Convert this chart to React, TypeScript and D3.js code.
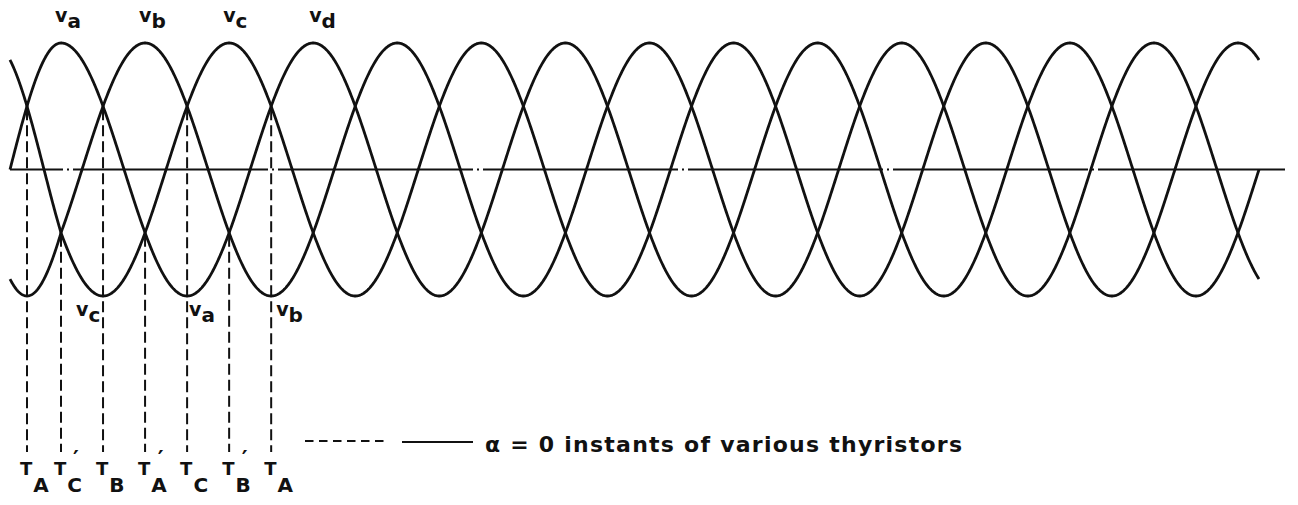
import React from 'react';
import * as d3 from 'd3';

const W = 1298;
const H = 505;

// Three-phase supply: phase names and their lag in electrical degrees
const PHASE_NAMES = ['a', 'b', 'c'];
const PHASE_LAG_DEG = [0, 120, 240];
const PEAK_VALUE = 1;

// Electrical angle span drawn (degrees) and sampling step
const ANGLE_START = 0;
const ANGLE_END = 1800;
const SAMPLE_STEP_DEG = 1;

// Phase labels at positive peaks and at negative troughs
const TOP_LABEL_SUBS = ['a', 'b', 'c', 'd'];
const TOP_LABEL_ANGLES = [90, 210, 330, 450];
const BOTTOM_LABEL_SUBS = ['c', 'a', 'b'];
const BOTTOM_LABEL_ANGLES = [150, 270, 390];

// alpha = 0 instants (natural commutation points) of the thyristors
const FIRING_ANGLES = [30, 90, 150, 210, 270, 330, 390];
const FIRING_SUBS = ['A', 'C', 'B', 'A', 'C', 'B', 'A'];
const FIRING_PRIMED = [false, true, false, true, false, true, false];

const LEGEND_TEXT = 'α = 0 instants of various thyristors';

const FONT = '"DejaVu Sans", sans-serif';
const INK = '#111';

const rad = (deg: number) => (deg * Math.PI) / 180;
const phaseValue = (angle: number, lag: number) => PEAK_VALUE * Math.sin(rad(angle - lag));

export default function App() {
  const x = d3.scaleLinear().domain([ANGLE_START, 90, ANGLE_END]).range([10, 61, 1259]);
  const y = d3.scaleLinear().domain([-PEAK_VALUE, PEAK_VALUE]).range([296, 43]);

  const angles = d3.range(ANGLE_START, ANGLE_END + SAMPLE_STEP_DEG / 2, SAMPLE_STEP_DEG);

  const waves = PHASE_NAMES.map((name, i) => ({
    name,
    d:
      d3
        .line<number>()
        .x((a) => x(a))
        .y((a) => y(phaseValue(a, PHASE_LAG_DEG[i])))
        .curve(d3.curveLinear)(angles) || '',
  }));

  // level of a commutation point: two phases are equal there (the median of the three)
  const crossing = (angle: number) =>
    d3.median(PHASE_LAG_DEG.map((lag) => phaseValue(angle, lag))) as number;

  const dropEnd = 452;
  const topDx = [-6, -6, -6, -4];
  const bottomDx = [-27, 2, 5];

  return (
    <svg
      width={W}
      height={H}
      style={{ position: 'fixed', left: 0, top: 0, background: '#fff' }}
      fontFamily={FONT}
      fontWeight="bold"
      fill={INK}
    >
      <rect x={0} y={0} width={W} height={H} fill="#fff" />

      {/* zero axis, dash-dot */}
      <line
        x1={10}
        x2={1285}
        y1={y(0)}
        y2={y(0)}
        stroke={INK}
        strokeWidth={2}
        strokeDasharray="195 4 2 4"
        strokeDashoffset={142}
      />

      {/* phase voltages */}
      {waves.map((w) => (
        <path key={w.name} d={w.d} fill="none" stroke={INK} strokeWidth={2.8} strokeLinejoin="round" />
      ))}

      {/* alpha = 0 drop lines */}
      {FIRING_ANGLES.map((a, i) => (
        <line
          key={'drop' + i}
          x1={x(a)}
          x2={x(a)}
          y1={y(crossing(a)) + 3}
          y2={dropEnd}
          stroke={INK}
          strokeWidth={2}
          strokeDasharray="11 5"
        />
      ))}

      {/* thyristor labels */}
      {FIRING_ANGLES.map((a, i) => (
        <text key={'th' + i} x={x(a) - 7} y={475} fontSize={18}>
          T
          <tspan dx={1} dy={17} fontSize={20}>
            {FIRING_SUBS[i]}
          </tspan>
          {FIRING_PRIMED[i] && (
            <tspan dx={-9} dy={-26} fontSize={22}>
              ′
            </tspan>
          )}
        </text>
      ))}

      {/* phase labels at peaks */}
      {TOP_LABEL_ANGLES.map((a, i) => (
        <text key={'top' + i} x={x(a) + topDx[i]} y={22} fontSize={19}>
          v
          <tspan dy={6} fontSize={20}>
            {TOP_LABEL_SUBS[i]}
          </tspan>
        </text>
      ))}

      {/* phase labels at troughs */}
      {BOTTOM_LABEL_ANGLES.map((a, i) => (
        <text key={'bot' + i} x={x(a) + bottomDx[i]} y={316} fontSize={19}>
          v
          <tspan dy={6} fontSize={20}>
            {BOTTOM_LABEL_SUBS[i]}
          </tspan>
        </text>
      ))}

      {/* legend */}
      <line x1={305} x2={387} y1={441} y2={441} stroke={INK} strokeWidth={2.2} strokeDasharray="8.5 5.5" />
      <line x1={402} x2={473} y1={442} y2={442} stroke={INK} strokeWidth={2.2} />
      <text x={485} y={452} fontSize={22} textLength={477} lengthAdjust="spacing">
        {LEGEND_TEXT}
      </text>
    </svg>
  );
}
